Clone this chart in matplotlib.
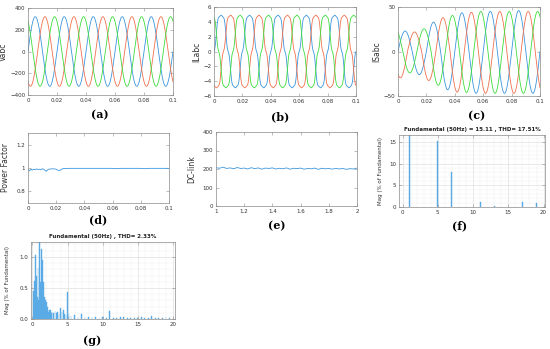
import numpy as np
import matplotlib.pyplot as plt

# ---- values ----
f_grid = 50.0
phase_deg = [0, -120, 120]            # phase a (blue), b (orange), c (green)
colors = ['#3C96DC', '#F0704E', '#3CDC3C']

# (a) grid voltage peak per phase
va_peak = [320, 320, 320]

# (b) load current: fundamental peak and relative harmonic shape
il_fund = 5.1
il_order = [1, 5, 7]
il_rel = [1.0, -0.08, -0.04]

# (c) source current peak of each half cycle, per phase
is_peak_a = [23, 26, 33, 43, 43.5, 47, 45, 47, 46, 47]
is_peak_b = [29.6, 22, 32.6, 38, 45.7, 44, 47, 45, 47, 45, 47]
is_peak_c = [25, 24, 25.5, 38, 40.5, 46, 45, 47, 45, 47, 45]

# (d) power factor
pf_t = [0, 0.001, 0.002, 0.003, 0.004, 0.005, 0.006, 0.007, 0.008, 0.009,
        0.010, 0.011, 0.012, 0.013, 0.014, 0.015, 0.016, 0.018, 0.020, 0.021,
        0.022, 0.023, 0.024, 0.025, 0.03, 0.04, 0.05, 0.06, 0.063, 0.066,
        0.07, 0.08, 0.083, 0.086, 0.09, 0.1]
pf = [0.985, 0.975, 0.99, 0.982, 0.99, 0.985, 0.992, 0.987, 0.99, 0.985,
      0.993, 0.99, 0.98, 0.972, 0.985, 0.99, 0.992, 0.993, 0.99, 0.982,
      0.978, 0.982, 0.99, 0.996, 0.997, 0.997, 0.997, 0.997, 0.994, 0.997,
      0.997, 0.997, 0.994, 0.997, 0.997, 0.997]

# (e) DC-link voltage, 1 s to 2 s
dc_v = [207, 204, 210, 203, 206, 201, 208, 203, 205, 200, 207, 202, 206, 199,
        205, 203, 206, 200, 204, 201, 206, 199, 204, 202, 205, 199, 203, 201,
        205, 198, 204, 201, 203, 199, 204, 200, 203, 198, 202, 200, 205]

# (f) load current spectrum (harmonic order, % of fundamental)
f_order = [1, 5, 7, 11, 13, 17, 19]
f_mag = [100, 15.3, 8.1, 1.2, 0.3, 1.1, 0.9]

# (g) source current spectrum
g_order = [0.2, 0.3, 0.4, 0.5, 0.6, 0.7, 0.8, 0.9, 1.0, 1.1, 1.2, 1.3, 1.4,
           1.5, 1.6, 1.7, 1.8, 1.9, 2.0, 2.1, 2.2, 2.3, 2.4, 2.5, 2.6, 2.7,
           2.8, 3.0, 3.2, 3.4, 3.6, 3.8, 4.0, 4.2, 4.4, 4.6, 4.8, 5.0, 5.2,
           5.5, 6.0, 6.5, 7.0, 7.5, 8.0, 8.5, 9.0, 9.5, 10.0, 10.5, 11.0,
           11.5, 12.0, 12.5, 13.0, 13.5, 14.0, 14.5, 15.0, 15.5, 16.0, 16.5,
           17.0, 17.5, 18.0, 18.5, 19.0, 19.5]
g_mag = [0.45, 0.61, 1.03, 0.5, 0.7, 0.35, 0.82, 0.3, 100, 0.35, 0.6, 1.13,
         0.95, 0.4, 0.6, 0.35, 0.32, 0.3, 0.28, 0.2, 0.15, 0.12, 0.14, 0.1,
         0.15, 0.09, 0.12, 0.1, 0.13, 0.09, 0.12, 0.08, 0.17, 0.12, 0.15,
         0.08, 0.06, 0.43, 0.08, 0.05, 0.07, 0.04, 0.08, 0.04, 0.03, 0.03,
         0.03, 0.02, 0.03, 0.02, 0.13, 0.02, 0.02, 0.03, 0.03, 0.02, 0.02,
         0.02, 0.02, 0.03, 0.02, 0.02, 0.05, 0.02, 0.02, 0.02, 0.04, 0.02]

W, H = 550, 349
fig = plt.figure(figsize=(W / 100, H / 100), dpi=100)
fig.patch.set_facecolor('white')


def add_ax(l, r, t, b):
    ax = fig.add_axes([l / W, 1 - b / H, (r - l) / W, (b - t) / H])
    ax.px = (l, r)
    return ax


def style(ax, ylabel, label_x):
    for s in ax.spines.values():
        s.set_color('#8a8a8a')
        s.set_linewidth(0.5)
    ax.tick_params(direction='in', top=True, right=True, length=2, width=0.4,
                   labelsize=4, pad=2, colors='#8a8a8a', labelcolor='#333333')
    ax.set_ylabel(ylabel, fontsize=5.5, color='#333333')
    l, r = ax.px
    ax.yaxis.set_label_coords((label_x - l) / (r - l), 0.5)


def panel_label(x, y, s):
    fig.text(x / W, 1 - y / H, s, ha='center', va='center', fontsize=8,
             fontweight='bold', family='DejaVu Serif')


t = np.linspace(0, 0.1, 3001)
w = 2 * np.pi * f_grid
time_ticks = np.arange(0, 0.101, 0.02)
time_labels = ['0', '0.02', '0.04', '0.06', '0.08', '0.1']

# (a)
ax = add_ax(28, 173, 8, 95)
for k in range(3):
    x = w * t + np.deg2rad(phase_deg[k])
    ax.plot(t, va_peak[k] * np.sin(x), color=colors[k], lw=0.6)
ax.set_xlim(0, 0.1)
ax.set_ylim(-400, 400)
ax.set_xticks(time_ticks)
ax.set_xticklabels(time_labels)
ax.set_yticks([-400, -200, 0, 200, 400])
style(ax, 'Vabc', 8)
panel_label(100, 115, '(a)')

# (b)
ax = add_ax(214, 356, 7, 96)
for k in range(3):
    x = w * t + np.deg2rad(phase_deg[k])
    il = np.zeros_like(t)
    for h, a in zip(il_order, il_rel):
        il += a * np.sin(h * x)
    ax.plot(t, il_fund * il, color=colors[k], lw=0.6)
ax.set_xlim(0, 0.1)
ax.set_ylim(-6, 6)
ax.set_xticks(time_ticks)
ax.set_xticklabels(time_labels)
ax.set_yticks([-6, -4, -2, 0, 2, 4, 6])
style(ax, 'ILabc', 201)
panel_label(280, 117, '(b)')

# (c)
ax = add_ax(398, 540, 7, 96)
for k, peaks in enumerate([is_peak_a, is_peak_b, is_peak_c]):
    phi = np.deg2rad(phase_deg[k])
    x = w * t + phi
    idx = np.floor(x / np.pi).astype(int) - int(np.floor(phi / np.pi))
    idx = np.clip(idx, 0, len(peaks) - 1)
    ax.plot(t, np.array(peaks)[idx] * np.sin(x), color=colors[k], lw=0.6)
ax.set_xlim(0, 0.1)
ax.set_ylim(-50, 50)
ax.set_xticks(time_ticks)
ax.set_xticklabels(time_labels)
ax.set_yticks([-50, 0, 50])
style(ax, 'ISabc', 381)
panel_label(477, 116, '(c)')

# (d)
ax = add_ax(28, 169, 133, 203)
ax.plot(pf_t, pf, color=colors[0], lw=0.6)
ax.set_xlim(0, 0.1)
ax.set_ylim(0.7, 1.3)
ax.set_xticks(time_ticks)
ax.set_xticklabels(time_labels)
ax.set_yticks([0.8, 1, 1.2])
ax.set_yticklabels(['0.8', '1', '1.2'])
style(ax, 'Power Factor', 10)
panel_label(98, 220, '(d)')

# (e)
ax = add_ax(216, 357, 132, 206)
ax.plot(np.linspace(1, 2, len(dc_v)), dc_v, color=colors[0], lw=0.6)
ax.set_xlim(1, 2)
ax.set_ylim(0, 400)
ax.set_xticks([1, 1.2, 1.4, 1.6, 1.8, 2])
ax.set_xticklabels(['1', '1.2', '1.4', '1.6', '1.8', '2'])
ax.set_yticks([0, 100, 200, 300, 400])
style(ax, 'DC-link', 196)
panel_label(277, 226, '(e)')


def spectrum(ax, order, mag, width, ylim, yticks, title, label_x):
    ax.bar(order, mag, width=width, color='#5AAAE6', edgecolor='#5AAAE6',
           linewidth=0.3)
    ax.set_xlim(-0.5, 20.2)
    ax.set_ylim(*ylim)
    ax.set_xticks([0, 5, 10, 15, 20])
    ax.set_yticks(yticks)
    ax.set_xticks(np.arange(0, 21, 1), minor=True)
    ax.grid(True, which='major', color='#d8d8d8', lw=0.4)
    ax.grid(True, which='minor', color='#ececec', lw=0.3)
    ax.set_axisbelow(True)
    style(ax, 'Mag (% of Fundamental)', label_x)
    ax.yaxis.label.set_size(4)
    ax.tick_params(which='minor', length=0)
    ax.set_title(title, fontsize=4, fontweight='bold', pad=3, color='#222222')


# (f)
ax = add_ax(399, 545, 135, 207)
spectrum(ax, f_order, f_mag, 0.15, (0, 16.6), [0, 5, 10, 15],
         'Fundamental (50Hz) = 15.11 , THD= 17.51%', 383)
ax.set_yticks(np.arange(0, 16.6, 1), minor=True)
panel_label(460, 226, '(f)')

# (g)
ax = add_ax(31, 175, 242, 319)
spectrum(ax, g_order, g_mag, 0.1, (0, 1.24), [0, 0.5, 1],
         'Fundamental (50Hz) , THD= 2.33%', 10)
ax.set_xlim(-0.2, 20.3)
ax.set_yticks(np.arange(0, 1.24, 0.1), minor=True)
panel_label(92, 341, '(g)')

fig.savefig('out.png', dpi=100, facecolor='white')
